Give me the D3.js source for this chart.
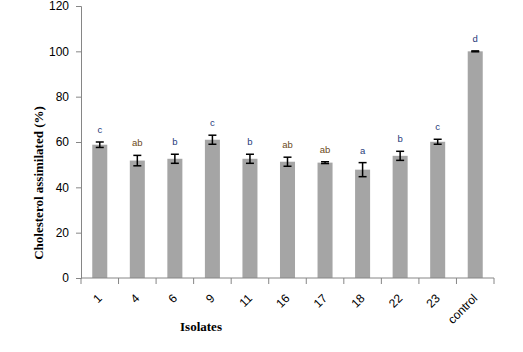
<!DOCTYPE html>
<html>
<head>
<meta charset="utf-8">
<script src="https://cdn.jsdelivr.net/npm/d3@7"></script>
<style>
	body { margin: 0; background: #fff; }
	svg { display: block; }
</style>
</head>
<body>
<svg width="523" height="352"></svg>
<script>
// data
const isolates = ["1", "4", "6", "9", "11", "16", "17", "18", "22", "23", "control"];
const assimilated = [58.8, 51.8, 52.6, 61.0, 52.6, 51.3, 50.9, 47.8, 53.9, 60.1, 100];
const errors = [1.2, 2.3, 2.0, 2.0, 2.0, 2.0, 0.4, 3.1, 2.0, 1.1, 0.2];
const letters = ["c", "ab", "b", "c", "b", "ab", "ab", "a", "b", "c", "d"];
const yTicks = [0, 20, 40, 60, 80, 100, 120];

const svg = d3.select("svg");
const plot = {left: 81, right: 494, top: 6, bottom: 278};

const x = d3.scaleBand()
	.domain(isolates)
	.range([plot.left, plot.right])
	.paddingInner(0.6)
	.paddingOuter(0.3);

const y = d3.scaleLinear()
	.domain([0, 120])
	.range([plot.bottom, plot.top]);

// bars
svg.append("g").selectAll("rect")
	.data(isolates)
	.join("rect")
	.attr("x", d => x(d))
	.attr("y", (d, i) => y(assimilated[i]))
	.attr("width", x.bandwidth())
	.attr("height", (d, i) => plot.bottom - y(assimilated[i]))
	.attr("fill", "#a5a5a5");

// error bars
const eb = svg.append("g")
	.attr("stroke", "#000")
	.attr("stroke-width", 1.5)
	.selectAll("g")
	.data(isolates)
	.join("g")
	.attr("transform", d => `translate(${x(d) + x.bandwidth() / 2},0)`);

eb.append("line")
	.attr("y1", (d, i) => y(assimilated[i] + errors[i]))
	.attr("y2", (d, i) => y(assimilated[i] - errors[i]));
eb.append("line")
	.attr("x1", -4).attr("x2", 4)
	.attr("y1", (d, i) => y(assimilated[i] + errors[i]))
	.attr("y2", (d, i) => y(assimilated[i] + errors[i]));
eb.append("line")
	.attr("x1", -4).attr("x2", 4)
	.attr("y1", (d, i) => y(assimilated[i] - errors[i]))
	.attr("y2", (d, i) => y(assimilated[i] - errors[i]));

// significance letters
svg.append("g").selectAll("text")
	.data(isolates)
	.join("text")
	.attr("x", d => x(d) + x.bandwidth() / 2)
	.attr("y", (d, i) => y(assimilated[i] + errors[i]) - 9)
	.attr("text-anchor", "middle")
	.attr("font-family", "Liberation Sans, Arial, sans-serif")
	.attr("font-size", 9.5)
	.attr("fill", (d, i) => letters[i] === "ab" ? "#6b4a1a" : "#1f3a7a")
	.text((d, i) => letters[i]);

// y axis
const yAxis = svg.append("g")
	.attr("transform", `translate(${plot.left},0)`)
	.call(d3.axisLeft(y).tickValues(yTicks).tickSize(5).tickPadding(7));
yAxis.selectAll("text")
	.attr("font-family", "Liberation Sans, Arial, sans-serif")
	.attr("font-size", 12)
	.attr("fill", "#000");

// x axis: ticks on band boundaries, labels rotated
const xAxis = svg.append("g").attr("transform", `translate(0,${plot.bottom})`);
xAxis.append("line")
	.attr("x1", plot.left).attr("x2", plot.right);
const step = (plot.right - plot.left) / isolates.length;
xAxis.selectAll("line.tick")
	.data(d3.range(isolates.length + 1))
	.join("line")
	.attr("class", "tick")
	.attr("x1", d => plot.left + d * step)
	.attr("x2", d => plot.left + d * step)
	.attr("y1", 0).attr("y2", 6);
xAxis.selectAll("line").attr("stroke", "#868686");
xAxis.selectAll("text")
	.data(isolates)
	.join("text")
	.attr("transform", d => `translate(${x(d) + x.bandwidth() / 2 + 3},21) rotate(-45)`)
	.attr("text-anchor", "end")
	.attr("font-family", "Liberation Sans, Arial, sans-serif")
	.attr("font-size", 12)
	.attr("fill", "#000")
	.text(d => d);

svg.selectAll(".domain, .tick line").attr("stroke", "#868686");

// axis titles
svg.append("text")
	.attr("transform", "translate(43,183) rotate(-90)")
	.attr("text-anchor", "middle")
	.attr("font-family", "Liberation Serif, Times New Roman, serif")
	.attr("font-weight", "bold")
	.attr("font-size", 13)
	.text("Cholesterol assimilated (%)");

svg.append("text")
	.attr("x", 201)
	.attr("y", 331)
	.attr("text-anchor", "middle")
	.attr("font-family", "Liberation Serif, Times New Roman, serif")
	.attr("font-weight", "bold")
	.attr("font-size", 13)
	.text("Isolates");
</script>
</body>
</html>
